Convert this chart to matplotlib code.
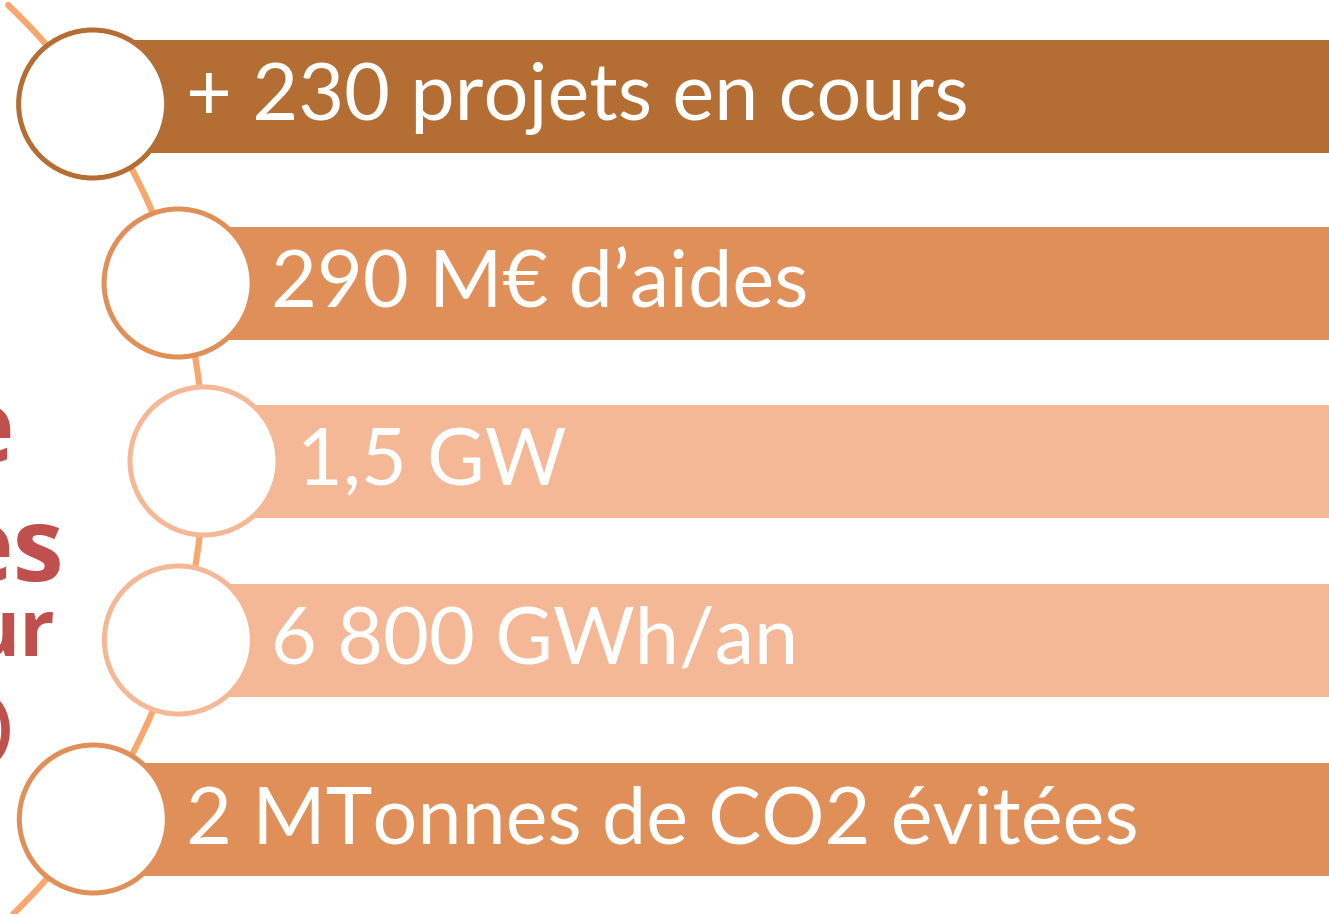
import numpy as np
import matplotlib
matplotlib.use("Agg")
import matplotlib.pyplot as plt
from matplotlib.patches import Circle, Rectangle

# ---- content ----
labels = ["+ 230 projets en cours", "290 M€ d’aides", "1,5 GW", "6 800 GWh/an",
          "2 MTonnes de CO2 évitées"]
bar_colors = ["#B46E33", "#E08F58", "#F5B896", "#F5B896", "#E08F58"]
side_fragments = ["e", "es", "ur", ")"]
side_color = "#C0504D"
arc_color = "#F8A86F"

W, H = 1329, 914
fig = plt.figure(figsize=(W / 100, H / 100), dpi=100)
ax = fig.add_axes([0, 0, 1, 1])
ax.set_xlim(0, W)
ax.set_ylim(H, 0)
ax.axis("off")

# layout
circle_y = [104, 283, 461, 640, 819]
bar_center = [96, 283, 461, 640, 819]
bar_h = 113
r = 74
arc_cx, arc_cy, arc_R = -427, 462, 631

# arc connecting the circles
ys = np.linspace(5, 914, 400)
xs = arc_cx + np.sqrt(arc_R ** 2 - (ys - arc_cy) ** 2)
ax.plot(xs, ys, color=arc_color, lw=4.5, solid_capstyle="round", zorder=1)

# side text fragments (cut off by the left edge)
side_specs = [(14, 462, 74, "bold"), (64, 581, 74, "bold"), (55, 656, 56, "bold"),
              (12, 748, 48, "bold")]
for frag, (x, y, fs, fw) in zip(side_fragments, side_specs):
    ax.text(x, y, frag, ha="right", va="baseline", fontsize=fs, fontweight=fw,
            color=side_color, family="Open Sans", zorder=2)

for i, (lab, col) in enumerate(zip(labels, bar_colors)):
    cy = circle_y[i]
    cx = arc_cx + np.sqrt(arc_R ** 2 - (cy - arc_cy) ** 2)
    bc = bar_center[i]
    ax.add_patch(Rectangle((cx, bc - bar_h / 2), W - cx + 5, bar_h,
                           facecolor=col, edgecolor="none", zorder=3))
    ax.add_patch(Circle((cx, cy), r, facecolor="white", edgecolor=col, lw=3.6, zorder=4))
    ax.text(cx + 93, bc + 24, lab, ha="left", va="baseline", fontsize=57,
            color="white", family="Lato", zorder=5)

fig.savefig("out.png", dpi=100)
